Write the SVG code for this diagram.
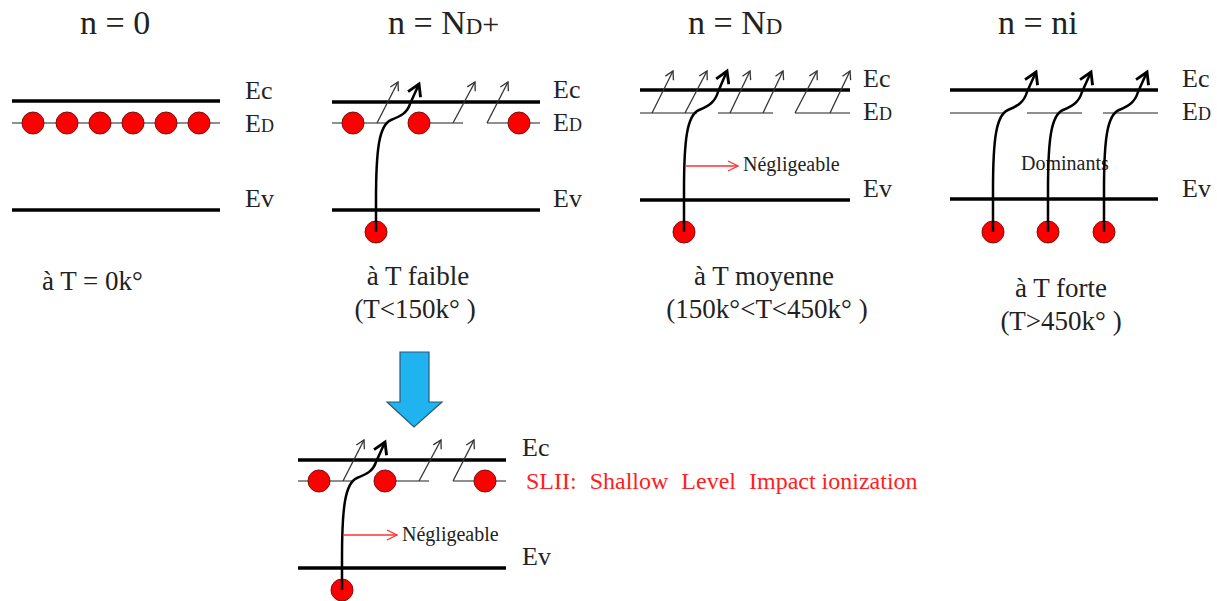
<svg xmlns="http://www.w3.org/2000/svg" width="1217" height="601" viewBox="0 0 1217 601" font-family="'Liberation Serif','Times New Roman',serif">
<defs>
<style>
.t{font-family:"Liberation Serif","Times New Roman",serif;fill:#222}
.title{font-size:34px}
.lab{font-size:26px}
.cap{font-size:27px}
.small{font-size:20px}
.band{stroke:#000;stroke-width:3.5;fill:none}
.ed{stroke:#6a6a6a;stroke-width:1.6;fill:none}
.thin{stroke:#333;stroke-width:1.3;fill:none;marker-end:url(#vThin)}
.thick{stroke:#000;stroke-width:2.5;fill:none;marker-end:url(#vThick)}
.red{stroke:#ff3030;stroke-width:1.3;fill:none;marker-end:url(#vRed)}
.e{fill:#ff0000;stroke:#7a1010;stroke-width:1}
</style>
<marker id="vThin" markerUnits="userSpaceOnUse" markerWidth="12" markerHeight="12" refX="9" refY="5" orient="auto" viewBox="0 0 12 10">
<path d="M1,0.5 L9,5 L1,9.5" fill="none" stroke="#333" stroke-width="1.3"/>
</marker>
<marker id="vThick" markerUnits="userSpaceOnUse" markerWidth="16" markerHeight="16" refX="11" refY="7" orient="auto" viewBox="0 0 14 14">
<path d="M1,1 L11,7 L1,13" fill="none" stroke="#000" stroke-width="2.5"/>
</marker>
<marker id="vRed" markerUnits="userSpaceOnUse" markerWidth="14" markerHeight="14" refX="11" refY="6" orient="auto" viewBox="0 0 14 12">
<path d="M1,1 L11,6 L1,11" fill="none" stroke="#ff3030" stroke-width="1.3"/>
</marker>
</defs>
<rect width="1217" height="601" fill="#fff"/>

<!-- titles -->
<g id="titles" class="t title">
<text x="80" y="34">n = 0</text>
<text x="388" y="34">n = N<tspan font-size="23">D</tspan><tspan font-size="30">+</tspan></text>
<text x="688" y="34">n = N<tspan font-size="23">D</tspan></text>
<text x="998" y="34">n = ni</text>
</g>

<!-- Panel 1 -->
<g id="panel1">
<line class="band" x1="12" y1="101" x2="220" y2="101"/>
<line class="ed" x1="12" y1="123" x2="220" y2="123"/>
<line class="band" x1="12" y1="210" x2="220" y2="210"/>
<circle class="e" cx="33" cy="123" r="11"/>
<circle class="e" cx="67" cy="123" r="11"/>
<circle class="e" cx="100" cy="123" r="11"/>
<circle class="e" cx="133" cy="123" r="11"/>
<circle class="e" cx="166" cy="123" r="11"/>
<circle class="e" cx="199" cy="123" r="11"/>
<text class="t lab" x="245" y="99">Ec</text>
<text class="t lab" x="245" y="132">E<tspan font-size="18">D</tspan></text>
<text class="t lab" x="245" y="207">Ev</text>
<text class="t cap" x="42" y="290">à T = 0k°</text>
</g>

<!-- Panel 2 -->
<g id="panel2">
<line class="band" x1="332" y1="102" x2="540" y2="102"/>
<line class="ed" x1="332" y1="123" x2="388" y2="123"/>
<line class="ed" x1="408" y1="123" x2="463" y2="123"/>
<line class="ed" x1="487" y1="123" x2="540" y2="123"/>
<line class="band" x1="332" y1="210" x2="540" y2="210"/>
<circle class="e" cx="353" cy="123" r="11"/>
<circle class="e" cx="419" cy="123" r="11"/>
<circle class="e" cx="519" cy="123" r="11"/>
<circle class="e" cx="376" cy="232" r="11"/>
<text class="t lab" x="553" y="98">Ec</text>
<text class="t lab" x="553" y="131">E<tspan font-size="18">D</tspan></text>
<text class="t lab" x="553" y="207">Ev</text>
</g>
<g id="caption2" class="t cap" text-anchor="middle">
<text x="418" y="285">à T faible</text>
<text x="415" y="318">(T&lt;150k° )</text>
</g>

<!-- Panel 3 -->
<g id="panel3">
<line class="band" x1="640" y1="90" x2="850" y2="90"/>
<line class="ed" x1="640" y1="113" x2="697" y2="113"/>
<line class="ed" x1="718" y1="113" x2="773" y2="113"/>
<line class="ed" x1="795" y1="113" x2="850" y2="113"/>
<line class="band" x1="640" y1="200" x2="850" y2="200"/>
<circle class="e" cx="684" cy="232" r="11"/>
<text class="t lab" x="863" y="87">Ec</text>
<text class="t lab" x="863" y="120">E<tspan font-size="18">D</tspan></text>
<text class="t lab" x="863" y="197">Ev</text>
<text class="t small" x="743" y="171">Négligeable</text>
</g>
<g id="caption3" class="t cap" text-anchor="middle">
<text x="764" y="285">à T moyenne</text>
<text x="767" y="318">(150k°&lt;T&lt;450k° )</text>
</g>

<!-- Panel 4 -->
<g id="panel4">
<line class="band" x1="950" y1="90" x2="1158" y2="90"/>
<line class="ed" x1="950" y1="113" x2="1005" y2="113"/>
<line class="ed" x1="1027" y1="113" x2="1082" y2="113"/>
<line class="ed" x1="1103" y1="113" x2="1158" y2="113"/>
<line class="band" x1="950" y1="199" x2="1158" y2="199"/>
<circle class="e" cx="993" cy="232" r="11"/>
<circle class="e" cx="1048" cy="232" r="11"/>
<circle class="e" cx="1104" cy="232" r="11"/>
<text class="t lab" x="1182" y="87">Ec</text>
<text class="t lab" x="1182" y="120">E<tspan font-size="18">D</tspan></text>
<text class="t lab" x="1182" y="197">Ev</text>
<text class="t small" x="1021" y="170">Dominants</text>
</g>
<g id="caption4" class="t cap" text-anchor="middle">
<text x="1061" y="297">à T forte</text>
<text x="1061" y="330">(T&gt;450k° )</text>
</g>

<!-- Blue arrow -->
<g id="bigArrow">
<path d="M400,352 L429,352 L429,402 L442,402 L414,427 L387,402 L400,402 Z" fill="#1fb4ef" stroke="#2a5a78" stroke-width="1.2"/>
</g>

<!-- Bottom panel -->
<g id="panel5">
<line class="band" x1="298" y1="460" x2="506" y2="460"/>
<line class="ed" x1="298" y1="481" x2="354" y2="481"/>
<line class="ed" x1="374" y1="481" x2="429" y2="481"/>
<line class="ed" x1="453" y1="481" x2="506" y2="481"/>
<line class="band" x1="298" y1="568" x2="506" y2="568"/>
<circle class="e" cx="319" cy="481" r="11"/>
<circle class="e" cx="385" cy="481" r="11"/>
<circle class="e" cx="485" cy="481" r="11"/>
<circle class="e" cx="342" cy="590" r="11"/>
<text class="t lab" x="522" y="456">Ec</text>
<text class="t lab" x="522" y="565">Ev</text>
<text class="t small" x="402" y="541">Négligeable</text>
<text class="t" x="526" y="489" font-size="24" word-spacing="7" style="fill:#ff2020">SLII: Shallow Level <tspan word-spacing="0">Impact ionization</tspan></text>
</g>

<!-- Connectors -->
<g id="connectors">
<line class="thin" x1="377" y1="123" x2="398" y2="82"/>
<line class="thin" x1="453" y1="123" x2="475" y2="82"/>
<line class="thin" x1="487" y1="123" x2="508" y2="82"/>
<path class="thick" d="M376,232 L376,200 C376,150 379,125 391,120 C401,116 407,113 410,104 L419,84"/>
<line class="thin" x1="652" y1="113" x2="673" y2="71"/>
<line class="thin" x1="685" y1="113" x2="707" y2="71"/>
<line class="thin" x1="730" y1="113" x2="750" y2="71"/>
<line class="thin" x1="763" y1="113" x2="783" y2="71"/>
<line class="thin" x1="795" y1="113" x2="817" y2="71"/>
<line class="thin" x1="830" y1="113" x2="850" y2="71"/>
<path class="thick" d="M684,232 L684,190 C684,140 687,115 699,110 C709,106 715,102 718,92 L727,71"/>
<line class="red" x1="685" y1="166" x2="738" y2="166"/>
<path class="thick" d="M993,232 L993,190 C993,140 996,115 1008,110 C1018,106 1024,102 1027,92 L1036,72"/>
<path class="thick" d="M1048,232 L1048,190 C1048,140 1051,115 1063,110 C1073,106 1079,102 1082,92 L1091,72"/>
<path class="thick" d="M1104,232 L1104,190 C1104,140 1107,115 1119,110 C1129,106 1135,102 1138,92 L1147,72"/>
<line class="thin" x1="343" y1="481" x2="364" y2="440"/>
<line class="thin" x1="419" y1="481" x2="441" y2="440"/>
<line class="thin" x1="453" y1="481" x2="474" y2="440"/>
<path class="thick" d="M342,590 L342,558 C342,508 345,483 357,478 C367,474 373,471 376,462 L385,442"/>
<line class="red" x1="343" y1="535" x2="397" y2="535"/>
</g>
</svg>
